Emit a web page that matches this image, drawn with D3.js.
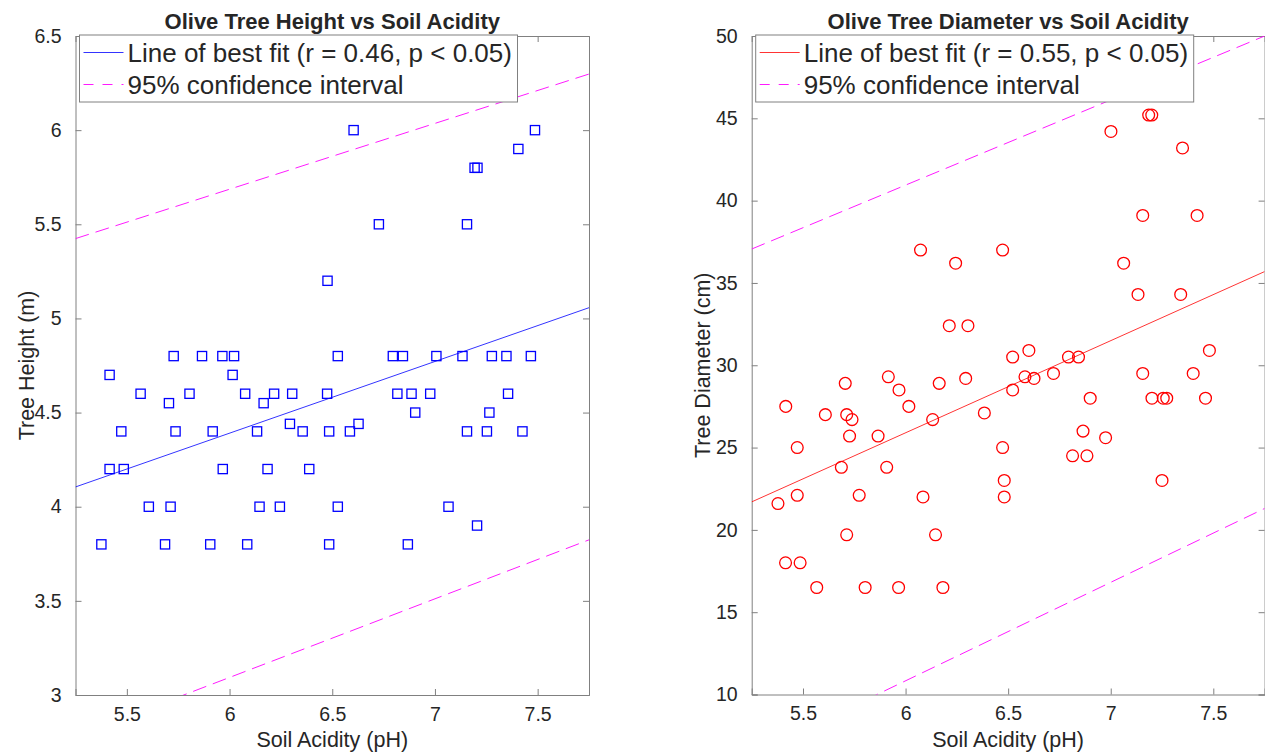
<!DOCTYPE html>
<meta charset="utf-8">
<html>
<head>
<script src="https://d3js.org/d3.v7.min.js"></script>
<style>
  body { margin: 0; background: white; }
  text { font-family: "Liberation Sans", Helvetica, Arial, sans-serif; fill: #262626; }
</style>
</head>
<body>
<script>
// soil pH and tree height (left panel)
const phHeight = [5.376,5.416,5.416,5.473,5.485,5.567,5.607,5.686,5.705,5.713,
  5.728,5.737,5.805,5.866,5.906,5.918,5.965,5.967,6.015,6.022,
  6.076,6.086,6.134,6.146,6.166,6.185,6.217,6.245,6.294,6.305,
  6.356,6.388,6.475,6.477,6.485,6.485,6.527,6.527,6.586,6.604,
  6.628,6.727,6.795,6.817,6.844,6.868,6.886,6.904,6.977,7.007,
  7.066,7.134,7.156,7.156,7.193,7.205,7.207,7.253,7.265,7.277,
  7.348,7.356,7.406,7.426,7.467,7.487];
const treeHeight = [3.8,4.7,4.2,4.4,4.2,4.6,4.0,3.8,4.55,4.0,
  4.8,4.4,4.6,4.8,3.8,4.4,4.8,4.2,4.7,4.8,
  4.6,3.8,4.4,4.0,4.55,4.2,4.6,4.0,4.44,4.6,
  4.4,4.2,4.6,5.2,4.4,3.8,4.8,4.0,4.4,6.0,
  4.44,5.5,4.8,4.6,4.8,3.8,4.6,4.5,4.6,4.8,
  4.0,4.8,4.4,5.5,5.8,3.9,5.8,4.4,4.5,4.8,
  4.8,4.6,5.9,4.4,4.8,6.0];

// soil pH and trunk diameter (right panel)
const phDiameter = [5.378,5.415,5.416,5.472,5.472,5.486,5.567,5.609,5.687,5.706,
  5.713,5.713,5.727,5.739,5.774,5.803,5.866,5.908,5.916,5.966,
  5.968,6.016,6.073,6.085,6.132,6.146,6.164,6.182,6.213,6.244,
  6.293,6.304,6.384,6.473,6.473,6.481,6.481,6.522,6.522,6.582,
  6.601,6.626,6.721,6.794,6.814,6.843,6.865,6.884,6.900,6.975,
  7.001,7.063,7.133,7.156,7.156,7.185,7.200,7.201,7.250,7.256,
  7.273,7.341,7.350,7.402,7.421,7.462,7.481];
const treeDiameter = [21.6,18.0,27.5,25.0,22.1,18.0,16.5,27.0,23.8,28.9,
  27.0,19.7,25.7,26.7,22.1,16.5,25.7,23.8,29.3,16.5,
  28.5,27.5,37.0,22.0,26.7,19.7,28.9,16.5,32.4,36.2,
  29.2,32.4,27.1,37.0,25.0,23.0,22.0,30.5,28.5,29.3,
  30.9,29.2,29.5,30.5,24.5,30.5,26.0,24.5,28.0,25.6,
  44.2,36.2,34.3,39.1,29.5,45.2,45.2,28.0,23.0,28.0,
  28.0,34.3,43.2,29.5,39.1,28.0,30.9];

// axis ranges and ticks
const phDomain = [5.25, 7.75];
const phTicks = [5.5, 6, 6.5, 7, 7.5];
const heightDomain = [3, 6.5];
const heightTicks = [3, 3.5, 4, 4.5, 5, 5.5, 6, 6.5];
const diameterDomain = [10, 50];
const diameterTicks = [10, 15, 20, 25, 30, 35, 40, 45, 50];

// fitted lines, value at each end of the pH range
const heightFit = [4.105, 5.057];
const heightUpper = [5.424, 6.298];
const heightLower = [2.78, 3.824];
const diameterFit = [21.70, 35.69];
const diameterUpper = [37.06, 50.0];
const diameterLower = [6.345, 21.30];

const width = 1265, height = 752;
const svg = d3.select('body').append('svg')
  .attr('width', width)
  .attr('height', height);

const panels = [
  {
    box: [75.5, 589, 36, 695],
    xs: phHeight, ys: treeHeight, yDomain: heightDomain, yTicks: heightTicks,
    fit: heightFit, upper: heightUpper, lower: heightLower,
    color: '#0000ff', marker: 'square',
    title: 'Olive Tree Height vs Soil Acidity',
    ylabel: 'Tree Height (m)',
    fitLabel: 'Line of best fit (r = 0.46, p < 0.05)'
  },
  {
    box: [751.7, 1264.6, 36, 694.5],
    xs: phDiameter, ys: treeDiameter, yDomain: diameterDomain, yTicks: diameterTicks,
    fit: diameterFit, upper: diameterUpper, lower: diameterLower,
    color: '#ff0000', marker: 'circle',
    title: 'Olive Tree Diameter vs Soil Acidity',
    ylabel: 'Tree Diameter (cm)',
    fitLabel: 'Line of best fit (r = 0.55, p < 0.05)'
  }
];

const axisColor = '#808080';

panels.forEach((p, i) => {
  const [x0, x1, y0, y1] = p.box;
  const x = d3.scaleLinear().domain(phDomain).range([x0, x1]);
  const y = d3.scaleLinear().domain(p.yDomain).range([y1, y0]);
  const g = svg.append('g');

  g.append('clipPath').attr('id', 'clip' + i)
    .append('rect')
    .attr('x', x0).attr('y', y0)
    .attr('width', x1 - x0).attr('height', y1 - y0);

  // axes with inward ticks on all four sides
  const fmt = d => String(d);
  g.append('g').attr('transform', `translate(0,${y1})`)
    .call(d3.axisBottom(x).tickValues(phTicks).tickSize(-6).tickPadding(12).tickFormat(fmt));
  g.append('g').attr('transform', `translate(0,${y0})`)
    .call(d3.axisTop(x).tickValues(phTicks).tickSize(-6).tickFormat(''));
  g.append('g').attr('transform', `translate(${x0},0)`)
    .call(d3.axisLeft(y).tickValues(p.yTicks).tickSize(-6).tickPadding(14).tickFormat(fmt));
  g.append('g').attr('transform', `translate(${x1},0)`)
    .call(d3.axisRight(y).tickValues(p.yTicks).tickSize(-6).tickFormat(''));

  g.selectAll('.domain, .tick line').attr('stroke', axisColor).attr('stroke-width', 1);
  g.selectAll('.tick text')
    .attr('font-size', 19.5)
    .attr('font-family', '"Liberation Sans", Helvetica, Arial, sans-serif')
    .attr('fill', '#262626');

  // markers
  const pts = d3.zip(p.xs, p.ys);
  const mk = g.append('g').attr('clip-path', `url(#clip${i})`);
  if (p.marker === 'square') {
    const s = 9.2;
    mk.selectAll('rect').data(pts).enter().append('rect')
      .attr('x', d => x(d[0]) - s / 2)
      .attr('y', d => y(d[1]) - s / 2)
      .attr('width', s).attr('height', s)
      .attr('fill', 'none').attr('stroke', p.color).attr('stroke-width', 1.3);
  } else {
    mk.selectAll('circle').data(pts).enter().append('circle')
      .attr('cx', d => x(d[0]))
      .attr('cy', d => y(d[1]))
      .attr('r', 5.9)
      .attr('fill', 'none').attr('stroke', p.color).attr('stroke-width', 1.3);
  }

  // fit line and confidence lines
  const line = d3.line().x(d => x(d[0])).y(d => y(d[1]));
  const lines = g.append('g').attr('clip-path', `url(#clip${i})`);
  lines.append('path').datum(d3.zip(phDomain, p.fit))
    .attr('d', line).attr('fill', 'none')
    .attr('stroke', p.color).attr('stroke-width', 0.8);
  [p.upper, p.lower].forEach(v => {
    lines.append('path').datum(d3.zip(phDomain, v))
      .attr('d', line).attr('fill', 'none')
      .attr('stroke', '#ff00ff').attr('stroke-width', 0.9)
      .attr('stroke-dasharray', '14,7');
  });

  // titles
  const cx = (x0 + x1) / 2;
  g.append('text').attr('x', cx).attr('y', 29)
    .attr('text-anchor', 'middle').attr('font-size', 22).attr('font-weight', 'bold')
    .attr('fill', '#000').text(p.title);
  g.append('text').attr('x', cx).attr('y', 746.5)
    .attr('text-anchor', 'middle').attr('font-size', 21.5)
    .text('Soil Acidity (pH)');
  g.append('text')
    .attr('transform', `translate(${x0 - 42},${(y0 + y1) / 2}) rotate(-90)`)
    .attr('text-anchor', 'middle').attr('font-size', 21.5)
    .text(p.ylabel);

  // legend
  const lx = x0 + 4, ly = y0 - 1;
  const lg = g.append('g').attr('transform', `translate(${lx},${ly})`);
  lg.append('rect').attr('width', 438).attr('height', 67)
    .attr('fill', 'white').attr('stroke', axisColor).attr('stroke-width', 1);
  lg.append('line').attr('x1', 4).attr('x2', 44).attr('y1', 17.5).attr('y2', 17.5)
    .attr('stroke', p.color).attr('stroke-width', 0.8);
  lg.append('line').attr('x1', 4).attr('x2', 44).attr('y1', 49.5).attr('y2', 49.5)
    .attr('stroke', '#ff00ff').attr('stroke-width', 0.9).attr('stroke-dasharray', '10,9');
  lg.append('text').attr('x', 48).attr('y', 27).attr('font-size', 26).attr('fill', '#000')
    .text(p.fitLabel);
  lg.append('text').attr('x', 48).attr('y', 59).attr('font-size', 26).attr('fill', '#000')
    .text('95% confidence interval');
});
</script>
</body>
</html>
